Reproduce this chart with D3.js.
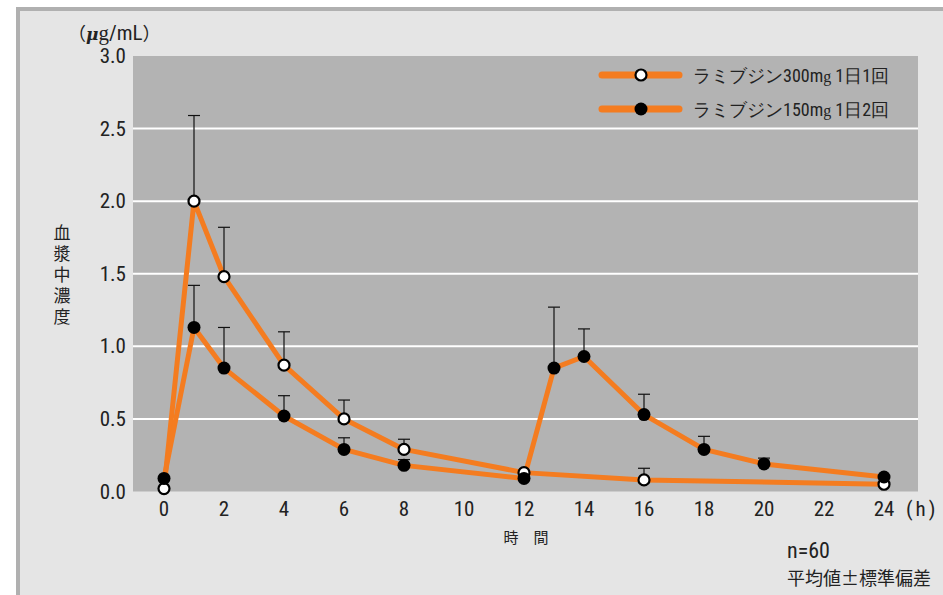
<!DOCTYPE html>
<html>
<head>
<meta charset="utf-8">
<script src="https://cdn.jsdelivr.net/npm/d3@7"></script>
<style>
  body { margin: 0; background: #fff; }
  svg { display: block; }
</style>
</head>
<body>
<div id="chart"></div>
<script>
// data
const hours300 = [0, 1, 2, 4, 6, 8, 12, 16, 24];
const mean300  = [0.02, 2.0, 1.48, 0.87, 0.50, 0.29, 0.13, 0.08, 0.05];
const sd300    = [0, 0.59, 0.34, 0.23, 0.13, 0.07, 0, 0.08, 0];

const hours150 = [0, 1, 2, 4, 6, 8, 12, 13, 14, 16, 18, 20, 24];
const mean150  = [0.09, 1.13, 0.85, 0.52, 0.29, 0.18, 0.09, 0.85, 0.93, 0.53, 0.29, 0.19, 0.10];
const sd150    = [0, 0.29, 0.28, 0.14, 0.08, 0.04, 0, 0.42, 0.19, 0.14, 0.09, 0.04, 0];

const xTicks = [0, 2, 4, 6, 8, 10, 12, 14, 16, 18, 20, 22, 24];
const yTicks = [0, 0.5, 1.0, 1.5, 2.0, 2.5, 3.0];
const seriesNames = ['ラミブジン300m', 'ラミブジン150m'];
const seriesTail = [' 1日1回', ' 1日2回'];

const W = 943, H = 595;
const plot = {left: 133, right: 918, top: 56, bottom: 491.5};
const orange = '#f47c20';
const narrow = "'Liberation Sans Narrow', 'Roboto Condensed', 'Liberation Sans', sans-serif";
const cjk = "'Noto Sans CJK JP', sans-serif";

const x = d3.scaleLinear().domain([0, 24]).range([164, 884]);
const y = d3.scaleLinear().domain([0, 3]).range([plot.bottom, plot.top]);

const svg = d3.select('#chart').append('svg')
    .attr('width', W).attr('height', H);

// frame
svg.append('rect').attr('x', 16).attr('y', 7).attr('width', W - 16).attr('height', H - 7).attr('fill', '#b0b0b0');
svg.append('rect').attr('x', 20).attr('y', 11).attr('width', W - 20).attr('height', H - 11).attr('fill', '#e5e5e5');

// plot area
svg.append('rect')
    .attr('x', plot.left).attr('y', plot.top)
    .attr('width', plot.right - plot.left).attr('height', plot.bottom - plot.top)
    .attr('fill', '#b3b3b3');

svg.append('g').selectAll('line')
    .data(yTicks.filter(d => d > 0 && d < 3))
    .enter().append('line')
    .attr('x1', plot.left).attr('x2', plot.right)
    .attr('y1', d => y(d)).attr('y2', d => y(d))
    .attr('stroke', '#fff').attr('stroke-width', 2);

// y tick labels
svg.append('g').selectAll('text')
    .data(yTicks).enter().append('text')
    .attr('x', 126).attr('y', d => y(d) + 7)
    .attr('text-anchor', 'end')
    .style('font-family', narrow).style('font-size', '21px').style('fill', '#222')
    .text(d => d.toFixed(1));

// x tick labels
svg.append('g').selectAll('text')
    .data(xTicks).enter().append('text')
    .attr('x', d => x(d)).attr('y', 516)
    .attr('text-anchor', 'middle')
    .style('font-family', narrow).style('font-size', '21px').style('fill', '#222')
    .text(d => d);

svg.append('text').attr('x', 906).attr('y', 516)
    .style('font-family', narrow).style('font-size', '21px').style('fill', '#222')
    .style('letter-spacing', '3px')
    .text('(h)');

svg.append('text').attr('x', 526).attr('y', 543).attr('text-anchor', 'middle')
    .style('font-family', cjk).style('font-size', '15px').style('fill', '#222')
    .text('時　間');

// unit label
const unit = svg.append('text').attr('x', 68).attr('y', 40)
    .style('font-family', narrow).style('font-size', '21px').style('fill', '#222');
unit.append('tspan').style('font-family', cjk).style('font-size', '18px').text('（');
unit.append('tspan').style('font-family', "'DejaVu Serif', serif").style('font-style', 'italic').style('font-weight', 'bold').style('font-size', '17px').text('μ');
unit.append('tspan').style('font-family', "'Liberation Serif', serif").text('g');
unit.append('tspan').text('/mL');
unit.append('tspan').style('font-family', cjk).style('font-size', '18px').text('）');

// vertical y label
svg.append('text')
    .attr('x', 62).attr('y', 224)
    .style('writing-mode', 'vertical-rl')
    .style('letter-spacing', '4px')
    .style('font-family', cjk).style('font-size', '17px').style('fill', '#222')
    .text('血漿中濃度');

// footnote
svg.append('text').attr('x', 787).attr('y', 558)
    .style('font-family', narrow).style('font-size', '22px').style('fill', '#222')
    .text('n=60');
svg.append('text').attr('x', 787).attr('y', 585)
    .style('font-family', cjk).style('font-size', '18px').style('fill', '#222')
    .text('平均値±標準偏差');

// series
const s300 = hours300.map((h, i) => ({h: h, m: mean300[i], sd: sd300[i]}));
const s150 = hours150.map((h, i) => ({h: h, m: mean150[i], sd: sd150[i]}));
const line = d3.line().x(d => x(d.h)).y(d => y(d.m));

[s300, s150].forEach(s => {
    svg.append('path').datum(s)
        .attr('d', line)
        .attr('fill', 'none').attr('stroke', orange)
        .attr('stroke-width', 5).attr('stroke-linejoin', 'round');
});

// error bars (upper only)
[s300, s150].forEach(s => {
    const g = svg.append('g').selectAll('g')
        .data(s.filter(d => d.sd > 0)).enter().append('g')
        .attr('stroke', '#111').attr('stroke-width', 1.2);
    g.append('line')
        .attr('x1', d => x(d.h)).attr('x2', d => x(d.h))
        .attr('y1', d => y(d.m)).attr('y2', d => y(d.m + d.sd));
    g.append('line')
        .attr('x1', d => x(d.h) - 6).attr('x2', d => x(d.h) + 6)
        .attr('y1', d => y(d.m + d.sd)).attr('y2', d => y(d.m + d.sd));
});

// markers
svg.append('g').selectAll('circle')
    .data(s300).enter().append('circle')
    .attr('cx', d => x(d.h)).attr('cy', d => y(d.m)).attr('r', 5.5)
    .attr('fill', '#fff').attr('stroke', '#000').attr('stroke-width', 2.2);
svg.append('g').selectAll('circle')
    .data(s150).enter().append('circle')
    .attr('cx', d => x(d.h)).attr('cy', d => y(d.m)).attr('r', 6.5)
    .attr('fill', '#000');

// legend
const legend = svg.append('g').selectAll('g')
    .data(seriesNames).enter().append('g')
    .attr('transform', (d, i) => `translate(0, ${75 + i * 34})`);
legend.append('line')
    .attr('x1', 602).attr('x2', 679).attr('y1', 0).attr('y2', 0)
    .attr('stroke', orange).attr('stroke-width', 7).attr('stroke-linecap', 'round');
legend.append('circle')
    .attr('cx', 641).attr('cy', 0)
    .attr('r', (d, i) => i === 0 ? 5.5 : 6.5)
    .attr('fill', (d, i) => i === 0 ? '#fff' : '#000')
    .attr('stroke', '#000').attr('stroke-width', (d, i) => i === 0 ? 2.2 : 0);
const lt = legend.append('text')
    .attr('x', 693).attr('y', 7)
    .style('font-family', narrow).style('font-size', '18px').style('fill', '#222');
lt.append('tspan').text(d => d);
lt.append('tspan').style('font-family', "'Liberation Serif', serif").style('font-size', '16px').text('g');
lt.append('tspan').text((d, i) => seriesTail[i]);
</script>
</body>
</html>
